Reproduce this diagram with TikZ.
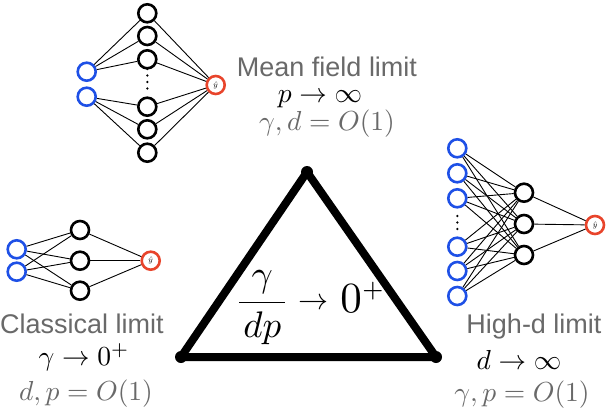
\documentclass[tikz,border=0pt]{standalone}
\usepackage[no-math]{fontspec}
\usepackage{amsmath}
\usepackage{graphicx}
\newfontfamily\labelfont{Liberation Sans}
\newcommand{\mlab}[2]{\scalebox{#1}{$#2$}}
\definecolor{inblue}{RGB}{30,80,230}
\definecolor{outred}{RGB}{232,68,43}
\definecolor{txtgray}{RGB}{105,105,105}
\tikzset{
  neuron/.style={circle, draw, line width=2.6pt, minimum size=18pt, inner sep=0pt},
  innode/.style={neuron, draw=inblue},
  hidnode/.style={neuron, draw=black},
  outnode/.style={neuron, draw=outred, font=\fontsize{8}{8}\selectfont},
  wire/.style={line width=0.9pt},
  title/.style={font=\labelfont\fontsize{27}{30}\selectfont, text=txtgray, anchor=base, inner sep=0pt},
  mlbl/.style={font=\fontsize{10}{12}\selectfont, anchor=base, inner sep=0pt},
  glbl/.style={mlbl, text=txtgray},
  dot/.style={fill=black},
}
\begin{document}
\begin{tikzpicture}[x=1pt,y=-1pt]
\useasboundingbox (0,0) rectangle (610,412);

% ---------- top network (mean field) ----------
\node[innode] (ti1) at (86.7,71.7) {};
\node[innode] (ti2) at (86.7,96.7) {};
\foreach \i/\y in {1/13.3,2/36,3/59.3,4/106.7,5/129.3,6/152.7}
  \node[hidnode] (th\i) at (147.3,\y) {};
\node[outnode] (to) at (215.7,85) {$\hat{y}$};
\foreach \i in {1,2,3} \draw[wire] (ti1) -- (th\i);
\foreach \i in {4,5,6} \draw[wire] (ti2) -- (th\i);
\foreach \i in {1,...,6} \draw[wire] (th\i) -- (to);
\foreach \y in {69,75.5,82,88.5} \fill[dot] (147.3,\y) circle (1.3);

\node[title] (tt) at (327,76) {Mean field limit};
\node[mlbl] (tm) at (320,102) {\mlab{2.75}{p\to\infty}};
\node[glbl] (tg) at (327,130) {\mlab{2.75}{\gamma,d=O(1)}};

% ---------- left network (classical) ----------
\node[innode] (li1) at (16.7,249.3) {};
\node[innode] (li2) at (16.7,271.7) {};
\foreach \i/\y in {1/230,2/260.7,3/290.7}
  \node[hidnode] (lh\i) at (80,\y) {};
\node[outnode] (lo) at (150.7,260.7) {$\hat{y}$};
\foreach \a in {1,2} \foreach \b in {1,2,3} \draw[wire] (li\a) -- (lh\b);
\foreach \b in {1,2,3} \draw[wire] (lh\b) -- (lo);

\node[title] (lt) at (82,333) {Classical limit};
\node[mlbl] (lm) at (84,365) {\mlab{2.75}{\gamma\to 0^+}};
\node[glbl] (lg) at (86,400) {\mlab{2.75}{d,p=O(1)}};

% ---------- right network (high-d) ----------
\foreach \i/\y in {1/148.3,2/173.3,3/198.3,4/246.7,5/271,6/296}
  \node[innode] (ri\i) at (457.3,\y) {};
\foreach \i/\y in {1/192.7,2/224,3/255}
  \node[hidnode] (rh\i) at (524,\y) {};
\node[outnode] (ro) at (595,225) {$\hat{y}$};
\foreach \a in {1,...,6} \foreach \b in {1,2,3} \draw[wire] (ri\a) -- (rh\b);
\foreach \b in {1,2,3} \draw[wire] (rh\b) -- (ro);
\foreach \y in {216,222.5,229} \fill[dot] (457.3,\y) circle (1.3);

\node[title] (rt) at (534,333) {High-d limit};
\node[mlbl] (rm) at (519,369) {\mlab{2.75}{d\to\infty}};
\node[glbl] (rg) at (522,401) {\mlab{2.75}{\gamma,p=O(1)}};

% ---------- triangle ----------
\coordinate (A) at (307,172);
\coordinate (B) at (181,357);
\coordinate (C) at (436,357);
\draw[line width=8pt, line join=round] (A) -- (B) -- (C) -- cycle;
\foreach \p in {A,B,C} \fill (\p) circle (6);
\node[anchor=base west, inner sep=0pt, font=\fontsize{10}{12}\selectfont] (ratio) at (234.6,312)
  {\mlab{3.7}{\dfrac{\gamma}{\kern1.1pt dp\kern1.1pt}}\hspace*{9pt}%
   \raisebox{2.5pt}{\mlab{3}{\to}}\hspace*{11.7pt}%
   \mlab{4.3}{0^{\scriptscriptstyle +}}};
\end{tikzpicture}
\end{document}
